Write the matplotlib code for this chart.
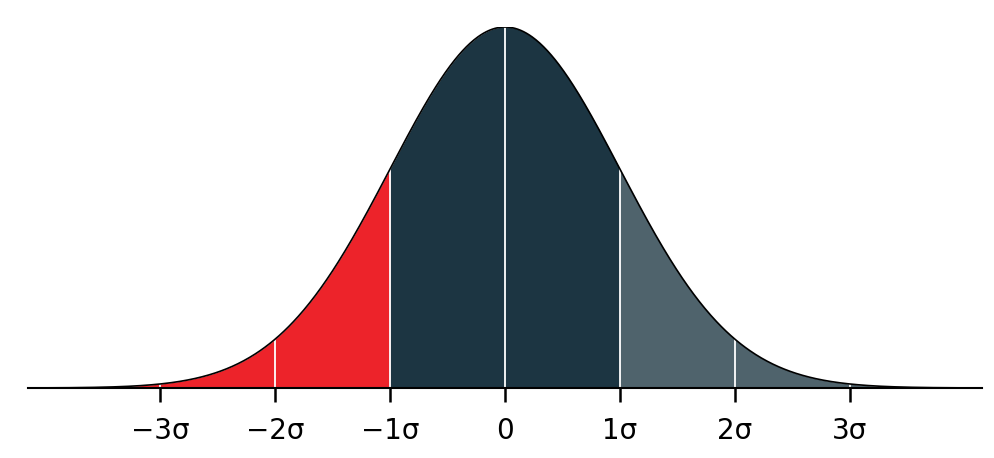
import numpy as np
import matplotlib
matplotlib.use("Agg")
import matplotlib.pyplot as plt

# Data
mean = 0.0
sd = 1.0
x_limits = [-4.15, 4.15]
region_bounds = [(-4.15, -1.0), (-1.0, 1.0), (1.0, 4.15)]
region_colors = ["#ED232A", "#1C3542", "#4F636C"]
tick_positions = [-3, -2, -1, 0, 1, 2, 3]
tick_labels = ["\u22123\u03c3", "\u22122\u03c3", "\u22121\u03c3", "0", "1\u03c3", "2\u03c3", "3\u03c3"]


def pdf(v):
    return np.exp(-0.5 * ((v - mean) / sd) ** 2) / (sd * np.sqrt(2 * np.pi))


fig = plt.figure(figsize=(9.94, 4.58), dpi=100)
ax = fig.add_axes([28 / 994, 70 / 458, 954 / 994, 361 / 458])

for (a, b), c in zip(region_bounds, region_colors):
    xs = np.linspace(a, b, 400)
    ax.fill_between(xs, 0, pdf(xs), color=c, linewidth=0, zorder=1)

for t in tick_positions:
    ax.plot([t, t], [0, pdf(t)], color="white", lw=1.3, zorder=2)

xs = np.linspace(x_limits[0], x_limits[1], 1000)
ax.plot(xs, pdf(xs), color="black", lw=1.2, zorder=3)

ax.set_xlim(*x_limits)
ax.set_ylim(0, pdf(mean))
for s in ["top", "right", "left"]:
    ax.spines[s].set_visible(False)
ax.spines["bottom"].set_linewidth(1.5)
ax.spines["bottom"].set_zorder(4)
ax.set_yticks([])
ax.set_xticks(tick_positions)
ax.set_xticklabels(tick_labels, fontsize=20, family=["DejaVu Sans"])
ax.tick_params(axis="x", length=10, width=1.8, pad=11, color="black")

fig.savefig("out.png", dpi=100)
